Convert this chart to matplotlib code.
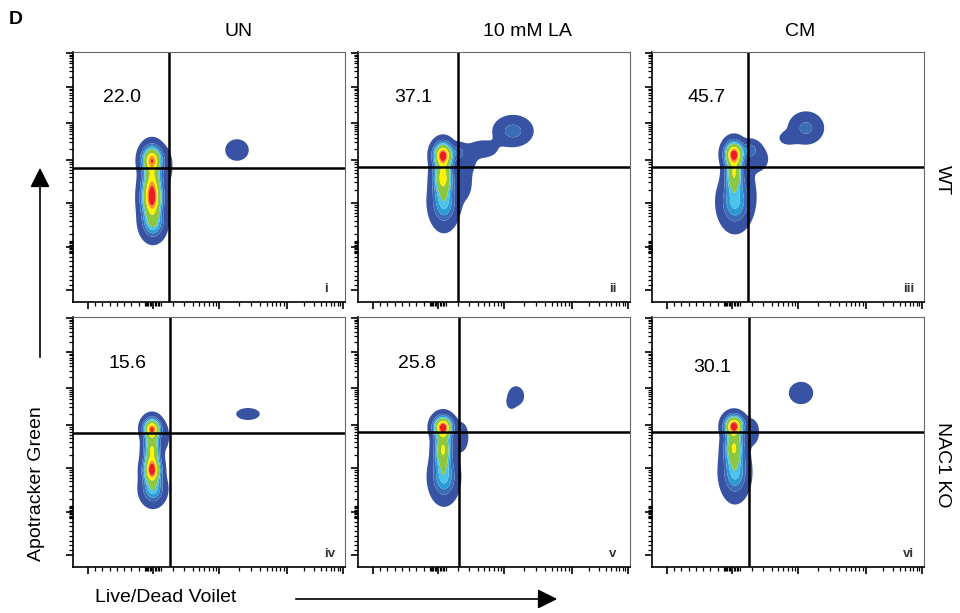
import numpy as np
import matplotlib
matplotlib.use("Agg")
import matplotlib.pyplot as plt

plt.rcParams['font.family'] = ['Liberation Sans', 'DejaVu Sans']

# panel order: i, ii, iii (WT row), iv, v, vi (NAC1 KO row)
col_titles = ['UN', '10 mM LA', 'CM']
row_titles = ['WT', 'NAC1 KO']
numerals = ['i', 'ii', 'iii', 'iv', 'v', 'vi']
percents = ['22.0', '37.1', '45.7', '15.6', '25.8', '30.1']

# quadrant gates, in panel channel units (x: 0-272, y: 0-250)
gate_x = [96, 100, 96, 97, 101, 97]
gate_y = [134, 135, 135, 134, 135, 135]
label_x = [49, 55, 55, 55, 59, 60]
label_y = [204, 204, 204, 203, 203, 199]

# density populations per panel: (x, y, sx, sy, weight)
blobs_i = [(79, 142, 5.7, 8, 0.85), (79, 104, 5.7, 11.5, 1.0), (79, 123, 5.3, 9, 0.4),
           (80, 80, 6.2, 9, 0.35), (94, 135, 4, 11, 0.03), (164, 152, 7.1, 6.5, 0.05)]
blobs_ii = [(85, 147, 5.3, 7, 1.0), (85, 125, 5.3, 10.5, 0.7), (86, 100, 7, 12.5, 0.3),
            (100, 150, 4.5, 4.5, 0.12), (105, 142, 8, 8, 0.04), (106, 120, 6, 13, 0.03),
            (125, 153, 10, 6, 0.035), (155, 171, 9.5, 7.4, 0.14)]
blobs_iii = [(82, 148, 5.3, 7, 1.0), (82, 128, 4.8, 10.5, 0.6), (83, 100, 8, 13, 0.3),
             (98, 152, 5, 5, 0.15), (104, 143, 9.5, 10, 0.03), (96, 110, 5, 12, 0.03),
             (154, 174, 8.5, 7.8, 0.13), (136, 164, 6, 4.5, 0.035)]
blobs_iv = [(79, 138, 4.8, 6, 0.9), (79, 97, 4.8, 8, 1.0), (79, 118, 4.4, 9, 0.6),
            (80, 78, 6.2, 8, 0.3), (92, 130, 3, 8, 0.03), (175, 153, 7.1, 3.6, 0.05)]
blobs_v = [(85, 140, 5.3, 6, 1.0), (85, 118, 4.8, 12, 0.65), (86, 90, 7, 12, 0.3),
           (104, 130, 5, 11, 0.03), (158, 171, 5, 6, 0.05), (153, 164, 3, 4, 0.03)]
blobs_vi = [(82, 141, 5.3, 6, 1.0), (82, 120, 5.3, 10.5, 0.6), (83, 95, 7, 13, 0.3),
            (100, 135, 5, 9, 0.035), (149, 174, 7.4, 6.8, 0.05)]
all_blobs = [blobs_i, blobs_ii, blobs_iii, blobs_iv, blobs_v, blobs_vi]

levels = [0.012, 0.09, 0.16, 0.24, 0.32, 0.56, 0.72, 0.83, 1.01]
colors = ['#3953a4', '#3a6db5', '#2c9ad6', '#4cc3e6', '#8dc63f',
          '#fff200', '#f7941d', '#ed1c24']

# axis decades (biexponential display)
x_major = [15, 80, 146, 214, 270]
y_major = [12, 55, 99, 142, 179, 215, 249]
W, H = 272, 250


def minor_ticks(majors, zero_idx, half):
    out = []
    for a, b in zip(majors[:-1], majors[1:]):
        if majors.index(b) <= zero_idx:
            out += list(np.linspace(a, b, 10)[1:-1])
        else:
            out += [a + np.log10(k) * (b - a) for k in range(2, 10)]
    z = majors[zero_idx]
    out += list(np.linspace(z - half, z + half, 11))
    return out


fig = plt.figure(figsize=(9.6, 6.13), dpi=100)
lefts = [73, 358, 652]
tops = [52, 317]

gx, gy = np.meshgrid(np.linspace(0, W, 400), np.linspace(0, H, 400))

for k in range(6):
    r, c = divmod(k, 3)
    ax = fig.add_axes([lefts[c] / 960, 1 - (tops[r] + H) / 613, W / 960, H / 613])
    dens = np.zeros_like(gx)
    for (bx, by, sx, sy, w) in all_blobs[k]:
        dens += w * np.exp(-((gx - bx) ** 2 / (2 * sx ** 2) + (gy - by) ** 2 / (2 * sy ** 2)))
    dens /= dens.max()
    ax.contourf(gx, gy, dens, levels=levels, colors=colors, antialiased=True)
    ax.axvline(gate_x[k], color='black', lw=1.8)
    ax.axhline(gate_y[k], color='black', lw=1.8)
    ax.set_xlim(0, W)
    ax.set_ylim(0, H)
    ax.text(label_x[k], label_y[k], percents[k], fontsize=14, ha='center', va='center')
    ax.text(251, 13, numerals[k], fontsize=9.5, fontweight='bold', color='#333333',
            ha='left', va='center')

    ax.set_xticks(x_major)
    ax.set_xticks(minor_ticks(x_major, 1, 8), minor=True)
    ax.set_yticks(y_major)
    ax.set_yticks(minor_ticks(y_major, 1, 6), minor=True)
    ax.set_xticklabels([])
    ax.set_yticklabels([])
    ax.tick_params(which='major', direction='out', length=5, width=1.2, color='black')
    ax.tick_params(which='minor', direction='out', length=3, width=0.9, color='black')
    for s in ['left', 'bottom']:
        ax.spines[s].set_color('black')
        ax.spines[s].set_linewidth(1.2)
    for s in ['top', 'right']:
        ax.spines[s].set_color('#666666')
        ax.spines[s].set_linewidth(0.8)

    if r == 0:
        ax.text(W / 2 + [30, 33, 12][c], H + 12, col_titles[c], fontsize=14,
                ha='center', va='bottom')

fig.text(16 / 960, 1 - 20 / 613, 'D', fontsize=14, fontweight='bold', ha='center', va='center')
fig.text(942 / 960, 1 - 180 / 613, row_titles[0], fontsize=14, rotation=-90, ha='center', va='center')
fig.text(942 / 960, 1 - 465 / 613, row_titles[1], fontsize=14, rotation=-90, ha='center', va='center')
fig.text(37 / 960, 1 - 484 / 613, 'Apotracker Green', fontsize=14, rotation=90, ha='center', va='center')
fig.text(95 / 960, 1 - 598 / 613, 'Live/Dead Voilet', fontsize=14, ha='left', va='center')

fig.add_artist(matplotlib.patches.FancyArrowPatch(
    (40 / 960, 1 - 360 / 613), (40 / 960, 1 - 165 / 613), transform=fig.transFigure,
    arrowstyle='-|>,head_length=8,head_width=4', mutation_scale=1.5, color='black', lw=1.2))
fig.add_artist(matplotlib.patches.FancyArrowPatch(
    (293 / 960, 1 - 599 / 613), (560 / 960, 1 - 599 / 613), transform=fig.transFigure,
    arrowstyle='-|>,head_length=8,head_width=4', mutation_scale=1.5, color='black', lw=1.2))

fig.savefig('out.png', dpi=100)
